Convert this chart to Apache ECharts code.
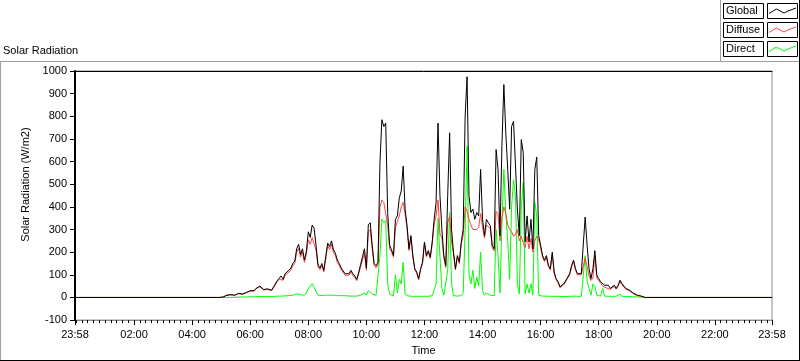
<!DOCTYPE html>
<html><head><meta charset="utf-8">
<script src="https://cdn.jsdelivr.net/npm/echarts@6/dist/echarts.min.js"></script>
<style>html,body{margin:0;padding:0;background:#fff}#c{width:800px;height:361px}</style>
</head><body><div id="c"></div>
<script>
// time grid: minutes since 00:00, sampled every 4 minutes from 05:00
const startMinute = 300;
const stepMinutes = 4;
const globalVals = [
0,2,6,10,8, 12,15,10,15,18, 18,15,20,22,25, 30,35,30,40,48, 50,45,35,35,38,
35,32,38,60,75, 85,95,80,105,100, 120,130,150,160,215, 235,190,215,165,205, 290,265,320,305,230,
145,130,150,120,180, 240,225,250,210,195, 165,150,130,125,105, 100,105,120,105,95, 80,110,145,180,215,
130,320,330,230,150, 140,155,595,785,755, 770,375,230,210,185, 345,360,440,470,580, 390,317,215,273,185,
127,112,83,127,156, 245,185,207,178,245, 345,420,770,450,300, 185,140,450,727,300, 200,127,185,156,245,
300,800,975,450,375, 390,345,375,360,565, 345,273,345,330,317, 230,215,653,565,273, 670,940,727,565,390,
755,778,770,390,273, 697,640,245,360,245, 345,215,565,620,273, 230,185,165,185,142, 127,200,112,83,70,
47,54,61,69,90, 105,142,165,127,105, 112,105,98,355,230, 127,83,127,207,98, 83,69,61,54,47,
54,40,47,54,40, 54,76,61,54,40, 37,32,28,18,13, 10,7,6,3,0
];
const diffuseVals = [
0,2,6,10,8, 12,14,10,14,17, 17,14,19,21,23, 28,33,28,38,45, 47,42,33,33,36,
33,30,35,56,70, 80,88,76,98,94, 112,122,140,150,200, 218,178,200,155,190, 255,235,265,265,208,
137,122,140,112,170, 228,212,235,198,185, 155,142,123,118,98, 94,98,112,98,88, 74,102,135,165,195,
120,290,300,215,142, 130,145,400,430,420, 420,320,215,200,178, 310,335,360,400,420, 370,305,207,265,178,
122,107,78,122,150, 238,180,200,172,236, 325,360,430,280,262, 175,132,330,360,245, 192,122,178,150,236,
275,400,380,345,320, 300,300,300,310,370, 310,262,320,312,305, 220,205,380,370,250, 350,400,370,320,300,
290,270,280,300,250, 270,240,220,270,215, 260,200,250,270,255, 220,177,158,177,136, 121,190,106,78,65,
43,50,57,65,85, 100,136,158,121,100, 107,100,93,175,170, 95,75,85,185,88, 75,63,50,48,42,
49,36,42,49,36, 49,70,56,50,36, 33,29,25,16,11, 8,6,5,3,0
];
const directVals = [
0,0,0,0,0, 0,1,1,2,2, 2,2,2,2,3, 3,3,3,3,4, 4,4,4,4,4,
4,4,4,5,6, 6,6,6,7,7, 8,8,10,10,15, 18,12,15,10,20, 40,35,61,45,25,
10,8,8,8,10, 10,10,12,10,10, 8,8,8,8,8, 6,6,8,6,6, 6,8,10,15,20,
10,30,30,15,8, 10,12,185,345,330, 340,60,15,8,6, 100,20,80,60,155, 15,8,6,6,5,
5,5,5,5,5, 5,5,5,6,8, 15,60,350,180,40, 10,8,120,375,60, 8,5,6,6,8,
20,300,668,100,60, 120,40,90,50,200, 30,10,20,15,10, 8,8,300,185,20, 330,565,370,250,80,
400,520,450,60,15, 400,507,15,60,20, 60,10,420,360,10, 8,6,6,6,5, 5,8,5,5,5,
4,4,4,4,4, 5,5,6,5,5, 5,5,5,185,70, 40,10,60,50,10, 8,6,40,6,5,
5,5,5,5,5, 5,15,5,5,4, 4,4,3,3,2, 2,1,1,0,0
];
const seriesNames = ['Global', 'Diffuse', 'Direct'];
const seriesColors = ['#000000', '#ff4040', '#00ff00'];
const xTickValues = [-2, 120, 240, 360, 480, 600, 720, 840, 960, 1080, 1200, 1320, 1438];
const xTickLabels = ['23:58', '02:00', '04:00', '06:00', '08:00', '10:00', '12:00', '14:00', '16:00', '18:00', '20:00', '22:00', '23:58'];
const xMin = -2, xMax = 1438;
const yMin = -100, yMax = 1000, yStep = 100;

function buildData(vals) {
  const d = [[xMin, 0], [startMinute - stepMinutes, 0]];
  vals.forEach((v, i) => d.push([startMinute + i * stepMinutes, v]));
  d.push([xMax, 0]);
  return d;
}
const minorTicks = [];
for (let m = 0; m < xMax; m += 12) { if (m % 120 !== 0 || m === 0) minorTicks.push(m); }

const FONT = 'Liberation Sans';
const chart = echarts.init(document.getElementById('c'), null, {renderer: 'canvas'});

const legendGraphics = [];
seriesNames.forEach((name, i) => {
  const top = 3.5 + 19 * i;
  legendGraphics.push({type: 'rect', shape: {x: 723.5, y: top, width: 40, height: 15}, style: {fill: '#fff', stroke: '#000', lineWidth: 1}, silent: true});
  legendGraphics.push({type: 'text', x: 726, y: top + 2, style: {text: name, fill: '#000', font: '11px "' + FONT + '"', textVerticalAlign: 'top'}, silent: true});
  legendGraphics.push({type: 'rect', shape: {x: 767.5, y: top, width: 30, height: 15}, style: {fill: '#fff', stroke: '#000', lineWidth: 1}, silent: true});
  legendGraphics.push({type: 'polyline', shape: {points: [[769, top + 10], [776.5, top + 5.5], [784, top + 9.5], [788, top + 7.5], [796, top + 4.5]]}, style: {stroke: seriesColors[i], lineWidth: 1, fill: null}, silent: true});
});

const option = {
  animation: false,
  backgroundColor: '#ffffff',
  textStyle: {fontFamily: FONT},
  grid: {left: 75, right: 28, top: 71, bottom: 39, show: true, borderColor: '#8a8a8a', borderWidth: 1, backgroundColor: '#fff'},
  xAxis: [{
    type: 'value', min: xMin, max: xMax, position: 'bottom',
    name: 'Time', nameLocation: 'middle', nameGap: 24,
    nameTextStyle: {fontSize: 11, color: '#000', fontFamily: FONT},
    splitLine: {show: false},
    axisLine: {show: true, onZero: false, lineStyle: {color: '#8a8a8a', width: 1}},
    axisTick: {show: true, customValues: xTickValues, length: 5, lineStyle: {color: '#000', width: 1}},
    axisLabel: {show: true, customValues: xTickValues, margin: 9, fontSize: 11, color: '#000', fontFamily: FONT,
      formatter: v => { const k = xTickValues.indexOf(v); return k >= 0 ? xTickLabels[k] : ''; }}
  }, {
    type: 'value', min: xMin, max: xMax, position: 'bottom',
    splitLine: {show: false}, axisLine: {show: false, onZero: false},
    axisTick: {show: true, customValues: minorTicks, length: 3, lineStyle: {color: '#000', width: 1}},
    axisLabel: {show: false}
  }, {
    type: 'value', min: xMin, max: xMax, position: 'top',
    splitLine: {show: false}, axisLine: {show: true, onZero: false, lineStyle: {color: '#000', width: 1}},
    axisTick: {show: false}, axisLabel: {show: false}
  }],
  yAxis: {
    type: 'value', min: yMin, max: yMax, interval: yStep,
    name: 'Solar Radiation (W/m2)', nameLocation: 'middle', nameGap: 26, nameRotate: 90,
    nameTextStyle: {fontSize: 11, color: '#000', fontFamily: FONT, padding: [0, 0, 0, 22]},
    splitLine: {show: false},
    axisLine: {show: true, onZero: false, lineStyle: {color: '#000', width: 2}},
    axisTick: {show: true, length: 5, lineStyle: {color: '#000', width: 1}},
    axisLabel: {margin: 8, fontSize: 11, color: '#000', fontFamily: FONT, formatter: v => String(v)}
  },
  series: [
    {name: 'Direct', type: 'line', data: buildData(directVals), showSymbol: false, symbol: 'none', z: 2, lineStyle: {color: seriesColors[2], width: 1}, itemStyle: {color: seriesColors[2]}},
    {name: 'Diffuse', type: 'line', data: buildData(diffuseVals), showSymbol: false, symbol: 'none', z: 3, lineStyle: {color: seriesColors[1], width: 1}, itemStyle: {color: seriesColors[1]}},
    {name: 'Global', type: 'line', data: buildData(globalVals), showSymbol: false, symbol: 'none', z: 4, lineStyle: {color: seriesColors[0], width: 1}, itemStyle: {color: seriesColors[0]}}
  ],
  graphic: [
    {type: 'text', left: 3, top: 45, style: {text: 'Solar Radiation', fill: '#000', font: '11px "' + FONT + '"'}, silent: true},
    {type: 'line', shape: {x1: 0, y1: 61.5, x2: 800, y2: 61.5}, style: {stroke: '#a0a0a0', lineWidth: 1}, silent: true},
    {type: 'line', shape: {x1: 0.5, y1: 61, x2: 0.5, y2: 361}, style: {stroke: '#a0a0a0', lineWidth: 1}, silent: true},
    {type: 'line', shape: {x1: 0, y1: 360.5, x2: 800, y2: 360.5}, style: {stroke: '#000', lineWidth: 1}, silent: true},
    {type: 'line', shape: {x1: 799.5, y1: 0, x2: 799.5, y2: 361}, style: {stroke: '#000', lineWidth: 1}, silent: true},
    {type: 'line', shape: {x1: 720.5, y1: 0, x2: 720.5, y2: 61}, style: {stroke: '#a0a0a0', lineWidth: 1}, silent: true}
  ].concat(legendGraphics)
};
chart.setOption(option);
</script></body></html>
